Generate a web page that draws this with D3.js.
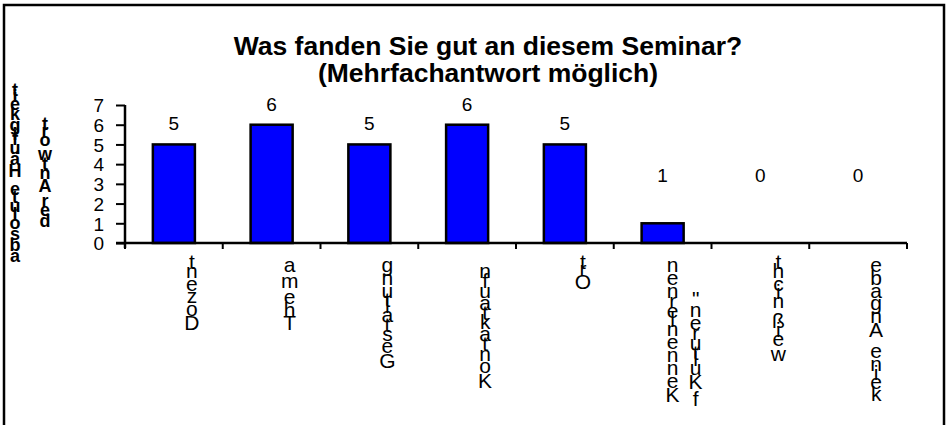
<!DOCTYPE html>
<html>
<head>
<meta charset="utf-8">
<script src="https://cdn.jsdelivr.net/npm/d3@7"></script>
<style>
  body { margin: 0; background: #fff; }
  svg { display: block; font-family: "Liberation Sans", Arial, sans-serif; }
</style>
</head>
<body>
<svg id="chart"></svg>
<script>
// chart data
var categories = [["Dozent"], ["Thema"], ["Gestaltung"], ["Kontaktaufn "], ["Ort"],
  ["Kennenlernen", "f Kulturen\""], ["weiß nicht"], ["keine Angabe"]];
var values = [5, 6, 5, 6, 5, 1, 0, 0];
var yTicks = [0, 1, 2, 3, 4, 5, 6, 7];
var titleLines = ["Was fanden Sie gut an diesem Seminar?", "(Mehrfachantwort möglich)"];
var yTitleLines = ["absolute Häufigkeit", "der Antwort"];

var W = 950, H = 425;
var plotLeft = 125, plotRight = 907, plotTop = 105, plotBottom = 243;

var svg = d3.select('#chart').attr('width', W).attr('height', H);

// outer frame
svg.append('rect')
  .attr('x', 4).attr('y', 5)
  .attr('width', 940).attr('height', 440)
  .attr('fill', 'none').attr('stroke', '#000').attr('stroke-width', 2.5);

var x = d3.scaleBand()
  .domain(d3.range(categories.length))
  .range([plotLeft, plotRight])
  .paddingInner(0.57)
  .paddingOuter(0.285);

var y = d3.scaleLinear().domain([0, 7]).range([plotBottom, plotTop]);

// canvas for glyph widths
var ctx = document.createElement('canvas').getContext('2d');
function charWidth(ch, font) {
  ctx.font = font;
  return ctx.measureText(ch).width;
}

// draw text as upright glyphs stacked bottom-to-top (like rotated text with unrotated letters)
// align: 'top' = text ends at yRef, 'center' = each line centred on yRef
function stackLines(g, lines, cx, yRef, size, weight, k, gapX, align) {
  var font = weight + ' ' + size + 'px "Liberation Sans", Arial, sans-serif';
  var lens = lines.map(function(l) {
    return d3.sum(l.split(''), function(c) { return charWidth(c, font) * k; });
  });
  var maxLen = d3.max(lens);
  lines.forEach(function(line, li) {
    var lx = cx + (li - (lines.length - 1) / 2) * gapX;
    var yb = align === 'center' ? yRef + lens[li] / 2 : yRef + maxLen;
    var cum = 0;
    line.split('').forEach(function(c) {
      var w = charWidth(c, font) * k;
      if (c !== ' ') {
        g.append('text')
          .attr('x', lx)
          .attr('y', yb - cum - w / 2)
          .attr('text-anchor', 'middle')
          .attr('dominant-baseline', 'central')
          .attr('font-size', size)
          .attr('font-weight', weight)
          .text(c);
      }
      cum += w;
    });
  });
}

// title
svg.append('g').selectAll('text')
  .data(titleLines)
  .enter().append('text')
  .attr('x', 488)
  .attr('y', function(d, i) { return 55 + i * 27; })
  .attr('text-anchor', 'middle')
  .attr('font-size', 26.5)
  .attr('font-weight', 'bold')
  .text(function(d) { return d; });

// bars
svg.append('g').selectAll('rect')
  .data(values)
  .enter().append('rect')
  .attr('x', function(d, i) { return x(i); })
  .attr('y', function(d) { return y(d); })
  .attr('width', x.bandwidth())
  .attr('height', function(d) { return y(0) - y(d); })
  .attr('fill', '#0000ff')
  .attr('stroke', '#000')
  .attr('stroke-width', 2.5);

// value labels
svg.append('g').selectAll('text')
  .data(values)
  .enter().append('text')
  .attr('x', function(d, i) { return x(i) + x.bandwidth() / 2; })
  .attr('y', function(d) { return Math.min(y(d) - 14, y(3.1)); })
  .attr('text-anchor', 'middle')
  .attr('font-size', 19)
  .text(function(d) { return d; });

// y axis
var yAxis = d3.axisLeft(y).tickValues(yTicks).tickSize(9).tickPadding(12).tickFormat(d3.format('d'));
var gy = svg.append('g').attr('transform', 'translate(' + plotLeft + ',0)').call(yAxis);
gy.select('.domain').attr('stroke-width', 2.5).attr('d', 'M0,' + plotTop + 'V' + (plotBottom + 5));
gy.selectAll('.tick line').attr('stroke-width', 2);
gy.selectAll('.tick text').attr('font-size', 19).attr('font-family', '"Liberation Sans", Arial, sans-serif').attr('dy', '0.36em');

// x axis with ticks at category boundaries
var gx = svg.append('g').attr('transform', 'translate(0,' + plotBottom + ')');
gx.append('line').attr('x1', plotLeft - 9).attr('x2', plotRight).attr('stroke', '#000').attr('stroke-width', 2.5);
gx.selectAll('line.tk')
  .data(d3.range(categories.length + 1))
  .enter().append('line')
  .attr('class', 'tk')
  .attr('x1', function(i) { return plotLeft + i * x.step(); })
  .attr('x2', function(i) { return plotLeft + i * x.step(); })
  .attr('y1', 0).attr('y2', 6)
  .attr('stroke', '#000').attr('stroke-width', 2);

// category labels
var gl = svg.append('g');
categories.forEach(function(lines, i) {
  var cx = x(i) + x.bandwidth() / 2 + 18 + (lines.length - 1) * 3.5;
  stackLines(gl, lines, cx, 258, 21, 'normal', 1.1, 23, 'top');
});

// y axis title
stackLines(svg.append('g'), yTitleLines, 30, 174, 18, 'bold', 1.05, 30, 'center');
</script>
</body>
</html>
